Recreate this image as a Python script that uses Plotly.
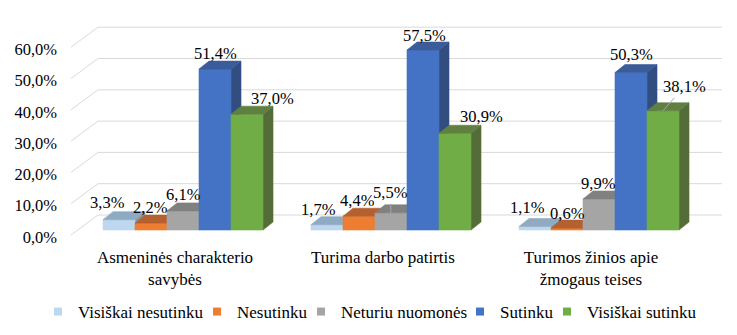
import plotly.graph_objects as go

# ---------------- data ----------------
categories = ["Asmeninės charakterio<br>savybės", "Turima darbo patirtis", "Turimos žinios apie<br>žmogaus teises"]
series_names = ["Visiškai nesutinku", "Nesutinku", "Neturiu nuomonės", "Sutinku", "Visiškai sutinku"]
visiskai_nesutinku = [3.3, 1.7, 1.1]
nesutinku = [2.2, 4.4, 0.6]
neturiu_nuomones = [6.1, 5.5, 9.9]
sutinku = [51.4, 57.5, 50.3]
visiskai_sutinku = [37.0, 30.9, 38.1]
y_ticks = [0, 10, 20, 30, 40, 50, 60]

series_values = [visiskai_nesutinku, nesutinku, neturiu_nuomones, sutinku, visiskai_sutinku]

# ---------------- style ----------------
front_cols = ["#BDD7EE", "#ED7D31", "#A5A5A5", "#4472C4", "#70AD47"]
top_cols = ["#8FAAC3", "#B5602F", "#808080", "#3A5C9B", "#5F8040"]
side_cols = ["#7F98AE", "#9E5228", "#6E6E6E", "#324D80", "#546D38"]
FONT = "Liberation Serif, DejaVu Serif"
NUM_SIZE = 16.5
WORD_SIZE = 17

W, H = 737, 335
L, R, T, B = 62, 0, 10, 95
PX_PER_UNIT_X = 208.0      # pixels per category step
PX_PER_PCT = 3.13          # pixels per percentage point
X0_PIX = 183.0             # pixel of first category centre (bar fronts)
Y0_PIX = 230.0             # pixel of 0 % on bar front plane

def xpix_to_data(p):
    return (p - X0_PIX) / PX_PER_UNIT_X

def ypix_to_data(p):
    return (Y0_PIX - p) / PX_PER_PCT

xrange = [xpix_to_data(L), xpix_to_data(W - R)]
yrange = [ypix_to_data(H - B), ypix_to_data(T)]

bw = 32 / PX_PER_UNIT_X          # bar width in data units
ddx = 10 / PX_PER_UNIT_X         # depth offsets
ddy = 8 / PX_PER_PCT
wall_dy = 15 / PX_PER_PCT        # back wall offset
front_dy = -5 / PX_PER_PCT       # front floor edge offset
wall_x_front = xpix_to_data(71)
wall_x_back = xpix_to_data(98)
wall_x_right = xpix_to_data(722)

fig = go.Figure()

# back wall gridlines
gx, gy = [], []
for v in y_ticks:
    gx += [wall_x_front, wall_x_back, wall_x_right, None]
    gy += [v + front_dy, v + wall_dy, v + wall_dy, None]
fig.add_trace(go.Scatter(x=gx, y=gy, mode="lines", line=dict(color="#D9D9D9", width=1),
                         hoverinfo="skip", showlegend=False))

# bars (3D boxes)
for k, vals in enumerate(series_values):
    fx, fy, tx, ty, sx, sy = [], [], [], [], [], []
    for i, v in enumerate(vals):
        x0 = i - 2.5 * bw + k * bw
        x1 = x0 + bw
        fx += [x0, x1, x1, x0, x0, None]
        fy += [0, 0, v, v, 0, None]
        tx += [x0, x1, x1 + ddx, x0 + ddx, x0, None]
        ty += [v, v, v + ddy, v + ddy, v, None]
        sx += [x1, x1 + ddx, x1 + ddx, x1, x1, None]
        sy += [0, ddy, v + ddy, v, 0, None]
    for xs, ys, col in ((sx, sy, side_cols[k]), (fx, fy, front_cols[k]), (tx, ty, top_cols[k])):
        fig.add_trace(go.Scatter(x=xs, y=ys, mode="lines", fill="toself", fillcolor=col,
                                 line=dict(color=col, width=0.6), hoverinfo="skip",
                                 showlegend=False))

# legend entries, one small legend per series so each sits where the reference puts it
legend_ids = ["legend", "legend2", "legend3", "legend4", "legend5"]
legend_left_px = [38, 197, 301, 460, 547]
for k, name in enumerate(series_names):
    fig.add_trace(go.Scatter(x=[None], y=[None], mode="markers", name=name, legend=legend_ids[k],
                             marker=dict(symbol="square", size=8, color=front_cols[k])))

# data labels (pixel offsets from front-top centre of each bar)
label_dx = [[-12, -9, -8], [-1, -2, 0], [0, -1, -1], [0, 1, 0], [25, 26, 21]]
label_dy = [[17, 15, 19], [16, 16, 15], [16, 20, 16], [16, 15, 18], [16, 17, 24]]
leader = [[False, False, True], [False, False, False], [False, True, False],
          [False, False, False], [False, False, True]]
for k, vals in enumerate(series_values):
    for i, v in enumerate(vals):
        xc = i - 2.5 * bw + k * bw + bw / 2
        txt = f"{v:.1f}%".replace(".", ",")
        if leader[k][i]:
            fig.add_annotation(x=xc, y=v, xref="x", yref="y", text=txt, showarrow=True,
                               arrowhead=0, arrowwidth=1, arrowcolor="#A6A6A6",
                               ax=label_dx[k][i], ay=-label_dy[k][i], axref="pixel", ayref="pixel",
                               standoff=0, startstandoff=0,
                               font=dict(family=FONT, size=NUM_SIZE, color="#000000"))
        else:
            fig.add_annotation(x=xc, y=v, xref="x", yref="y", text=txt, showarrow=False,
                               xshift=label_dx[k][i], yshift=label_dy[k][i],
                               xanchor="center", yanchor="middle",
                               font=dict(family=FONT, size=NUM_SIZE, color="#000000"))

legends = {}
for k, lid in enumerate(legend_ids):
    legends[lid] = dict(orientation="h", xref="container", yref="container",
                        x=legend_left_px[k] / W, xanchor="left", y=1 - 312 / H, yanchor="middle",
                        font=dict(family=FONT, size=WORD_SIZE, color="#000000"),
                        bgcolor="rgba(0,0,0,0)", borderwidth=0)

fig.update_layout(
    width=W, height=H,
    margin=dict(l=L, r=R, t=T, b=B, pad=0, autoexpand=False),
    paper_bgcolor="white", plot_bgcolor="white",
    font=dict(family=FONT, size=WORD_SIZE, color="#000000"),
    showlegend=True,
    xaxis=dict(range=xrange, tickvals=[0, 1, 2], ticktext=categories, showgrid=False,
               zeroline=False, showline=False, ticks="", fixedrange=True, automargin=False,
               ticklabelshift=-8, ticklabelstandoff=5,
               tickfont=dict(family=FONT, size=WORD_SIZE, color="#000000")),
    yaxis=dict(range=yrange, tickvals=y_ticks, automargin=False,
               ticktext=[f"{v:.1f}%".replace(".", ",") for v in y_ticks],
               showgrid=False, zeroline=False, showline=False, ticks="", fixedrange=True,
               ticklabelshift=7, ticklabelstandoff=4,
               tickfont=dict(family=FONT, size=NUM_SIZE, color="#000000")),
    **legends,
)

fig.write_html("out.html")
